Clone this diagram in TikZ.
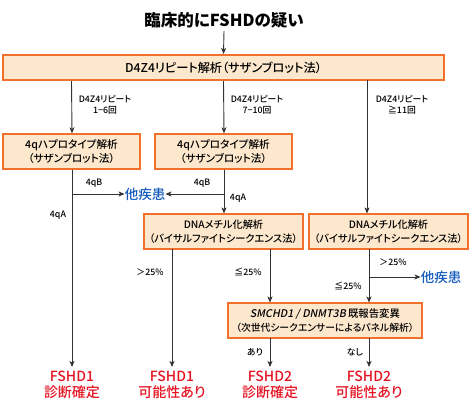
\documentclass[tikz,border=0pt]{standalone}
\usepackage{fontspec}
\setmainfont{Noto Sans CJK JP}[RawFeature=+palt]
\newfontfamily\medfont{Noto Sans CJK JP Medium}[RawFeature=+palt]
\newfontfamily\slfont{Noto Sans CJK JP Medium}[FakeSlant=0.2]
\usepackage{xcolor}
\usepackage{tikz}
\usetikzlibrary{shapes, arrows, arrows.meta, positioning, calc}
\definecolor{boxfill}{RGB}{253,232,206}
\definecolor{boxline}{RGB}{240,112,44}
\definecolor{linegray}{RGB}{50,50,50}
\definecolor{otherblue}{RGB}{20,90,190}
\definecolor{resultred}{RGB}{228,20,35}
\tikzstyle{stepbox} = [rectangle, draw=boxline, fill=boxfill, line width=1.3pt, align=center, inner sep=0pt]
\tikzstyle{lbl} = [font=\medfont\fontsize{8.8}{11}\selectfont, align=center, inner sep=0pt]
\tikzstyle{other} = [text=otherblue, font=\medfont\fontsize{13.5}{15}\selectfont, inner sep=0pt]
\tikzstyle{result} = [text=resultred, font=\medfont\fontsize{14}{16}\selectfont, align=center, inner sep=0pt]
\tikzstyle{arrow} = [draw=linegray, line width=0.9pt, -{Stealth[length=6pt, width=5pt, inset=1.5pt]}]

\begin{document}
\begin{tikzpicture}[x=1pt, y=-1pt]
    \useasboundingbox (0,0) rectangle (472,407);
    % title and first analysis
    \node (title) at (224,20) [font=\fontsize{16.5}{18}\selectfont\bfseries, inner sep=0pt] {臨床的にFSHDの疑い};
    \node (d4z4) at (223.5,67.5) [stepbox, line width=2pt, minimum width=441pt, minimum height=25pt, font=\medfont\fontsize{12.2}{13}\selectfont] {D4Z4リピート解析（サザンブロット法）};
    \draw [arrow] (224,31) -- (d4z4.north);

    % second row
    \node (hapl) at (71.5,151.5) [stepbox, minimum width=137pt, minimum height=35pt, font=\medfont\fontsize{10.6}{13.5}\selectfont] {4qハプロタイプ解析\\（サザンブロット法）};
    \node (hapm) at (223.5,151.5) [stepbox, minimum width=137pt, minimum height=35pt, font=\medfont\fontsize{10.6}{13.5}\selectfont] {4qハプロタイプ解析\\（サザンブロット法）};
    \node (other1) at (145,194) [other] {他疾患};

    % methylation
    \node (methm) at (223.5,231.5) [stepbox, minimum width=159pt, minimum height=35pt, font=\medfont\fontsize{10.2}{13.5}\selectfont] {DNAメチル化解析\\（バイサルファイトシークエンス法）};
    \node (methr) at (388.5,231.5) [stepbox, minimum width=159pt, minimum height=35pt, font=\medfont\fontsize{10.2}{13.5}\selectfont] {DNAメチル化解析\\（バイサルファイトシークエンス法）};
    \node (other2) at (441,277) [other] {他疾患};

    % panel analysis
    \node (panel) at (325,320.5) [stepbox, minimum width=194pt, minimum height=35pt, font=\medfont\fontsize{9.8}{14}\selectfont] {{\slfont\fontsize{10.6}{14}\selectfont SMCHD1 / DNMT3B} {\fontsize{10.4}{14}\selectfont 既報告変異}\\（次世代シークエンサーによるパネル解析）};

    % results
    \node (res1) at (72,385) [result] {FSHD1\\診断確定};
    \node (res2) at (172,385) [result] {FSHD1\\可能性あり};
    \node (res3) at (270,385) [result] {FSHD2\\診断確定};
    \node (res4) at (369,385) [result] {FSHD2\\可能性あり};

    % branch points
    \coordinate (bl) at (72,194);
    \coordinate (bm) at (224,194);
    \coordinate (br) at (369,277);

    % connectors
    \draw [arrow] (d4z4.south -| hapl) -- (hapl.north -| 72,0);
    \draw [arrow] (d4z4.south -| hapm) -- (hapm.north -| 224,0);
    \draw [arrow] (367,80) -- (367,213.5);
    \draw [arrow] (hapl.south -| 72,0) -- (72,367);
    \draw [arrow] (bl) -- (other1.west);
    \draw [arrow] (hapm.south -| 224,0) -- (224,213.5);
    \draw [arrow] (bm) -- (other1.east);
    \draw [arrow] (172,249) -- (172,367);
    \draw [arrow] (270,249) -- (270,302.5);
    \draw [arrow] (369,249) -- (369,302.5);
    \draw [arrow] (br) -- (other2.west);
    \draw [arrow] (270,338) -- (270,367);
    \draw [arrow] (369,338) -- (369,367);

    % labels
    \node (n16) at (105,105) [lbl] {D4Z4リピート\\1−6回};
    \node (n710) at (257,105) [lbl] {D4Z4リピート\\7−10回};
    \node (n11) at (402,105) [lbl] {D4Z4リピート\\≧11回};
    \node (lb1) at (94,183) [lbl] {4qB};
    \node (la1) at (58,215) [lbl] {4qA};
    \node (lb2) at (202,183) [lbl] {4qB};
    \node (la2) at (238,198) [lbl] {4qA};
    \node (gt1) at (150,272) [lbl] {＞25\%};
    \node (le1) at (248,272) [lbl] {≦25\%};
    \node (gt2) at (393,262) [lbl] {＞25\%};
    \node (le2) at (348,286) [lbl] {≦25\%};
    \node (yes) at (255,352) [lbl] {あり};
    \node (no) at (355,352) [lbl] {なし};
\end{tikzpicture}
\end{document}
